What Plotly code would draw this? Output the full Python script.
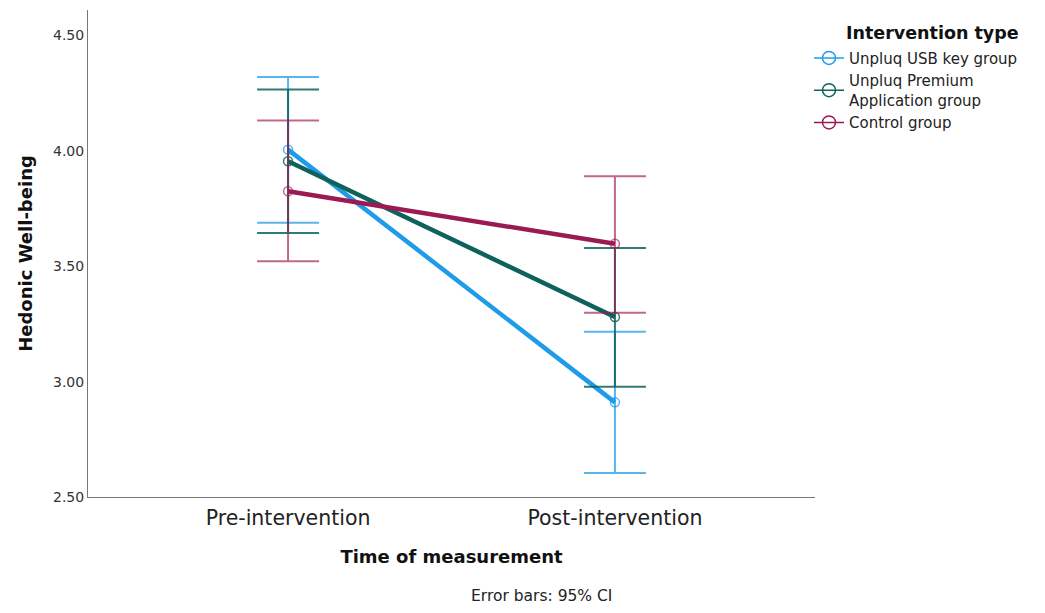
import plotly.graph_objects as go

times = ["Pre-intervention", "Post-intervention"]
groups = ["Unpluq USB key group", "Unpluq Premium<br>Application group", "Control group"]

mean_usb = [4.005, 2.91]
lower_usb = [3.688, 2.604]
upper_usb = [4.320, 3.216]

mean_app = [3.955, 3.280]
lower_app = [3.644, 2.978]
upper_app = [4.266, 3.579]

mean_ctrl = [3.825, 3.597]
lower_ctrl = [3.521, 3.298]
upper_ctrl = [4.131, 3.890]

line_colors = ["#1e9be9", "#0f615c", "#9b1a52"]
bar_colors = ["rgba(30,155,233,0.75)", "rgba(15,97,92,0.85)", "rgba(155,26,82,0.65)"]

series = [
    (mean_usb, lower_usb, upper_usb),
    (mean_app, lower_app, upper_app),
    (mean_ctrl, lower_ctrl, upper_ctrl),
]

fig = go.Figure()
for name, (m, lo, up), lc, bc in zip(groups, series, line_colors, bar_colors):
    fig.add_trace(go.Scatter(
        x=times, y=m, mode="lines+markers", name=name, showlegend=False,
        line=dict(color=lc, width=4.5),
        marker=dict(symbol="circle-open", size=9, color=bc, line=dict(width=1.5, color=bc)),
        error_y=dict(type="data", symmetric=False,
                     array=[u - v for u, v in zip(up, m)],
                     arrayminus=[v - l for v, l in zip(m, lo)],
                     color=bc, thickness=2, width=31),
    ))

for name, lc in zip(groups, line_colors):
    fig.add_trace(go.Scatter(
        x=[None], y=[None], mode="lines+markers", name=name, showlegend=True,
        line=dict(color=lc, width=1.5),
        marker=dict(symbol="circle-open", size=13, color=lc, line=dict(width=1.5, color=lc)),
    ))

# plot area in screen pixels (page body adds an 8px offset)
PL, PR, PT, PB = 88, 815, 10, 497
OFF = 8

fig.update_layout(
    width=1045, height=613,
    margin=dict(l=PL - OFF, r=1045 - (PR - OFF), t=PT - OFF, b=613 - (PB - OFF)),
    paper_bgcolor="white", plot_bgcolor="white",
    font=dict(family="DejaVu Sans", color="#222222"),
    showlegend=True,
    legend=dict(x=1 - 6 / 727, xanchor="left", y=0.935, yanchor="top",
                font=dict(size=15, color="#222222"), tracegroupgap=0,
                itemwidth=30, bgcolor="rgba(0,0,0,0)"),
    xaxis=dict(
        type="category", range=[-0.612, 1.612],
        showline=True, linecolor="#777777", linewidth=1,
        showgrid=False, zeroline=False, ticks="",
        tickfont=dict(size=20.5, color="#222222"), ticklabelstandoff=2,
        title=dict(text="<b>Time of measurement</b>", font=dict(size=18, color="#111111"), standoff=21),
    ),
    yaxis=dict(
        range=[2.5, 4.61], tickvals=[2.5, 3.0, 3.5, 4.0, 4.5],
        ticktext=["2.50", "3.00", "3.50", "4.00", "4.50"],
        showline=True, linecolor="#777777", linewidth=1,
        showgrid=False, zeroline=False, ticks="",
        tickfont=dict(size=14, color="#333333"),
        title=dict(text="<b>Hedonic Well-being</b>", font=dict(size=18, color="#111111"), standoff=15),
    ),
    annotations=[
        dict(text="<b>Intervention type</b>", x=(933 - PL) / 727, y=1 - (33 - PT) / 487,
             xref="paper", yref="paper", xanchor="center", yanchor="middle",
             showarrow=False, font=dict(size=17.5, color="#111111")),
        dict(text="Error bars: 95% CI", x=(541 - PL) / 727, y=1 - (596 - PT) / 487,
             xref="paper", yref="paper", xanchor="center", yanchor="middle",
             showarrow=False, font=dict(size=15.5, color="#222222")),
    ],
)

fig.write_html("out.html")
